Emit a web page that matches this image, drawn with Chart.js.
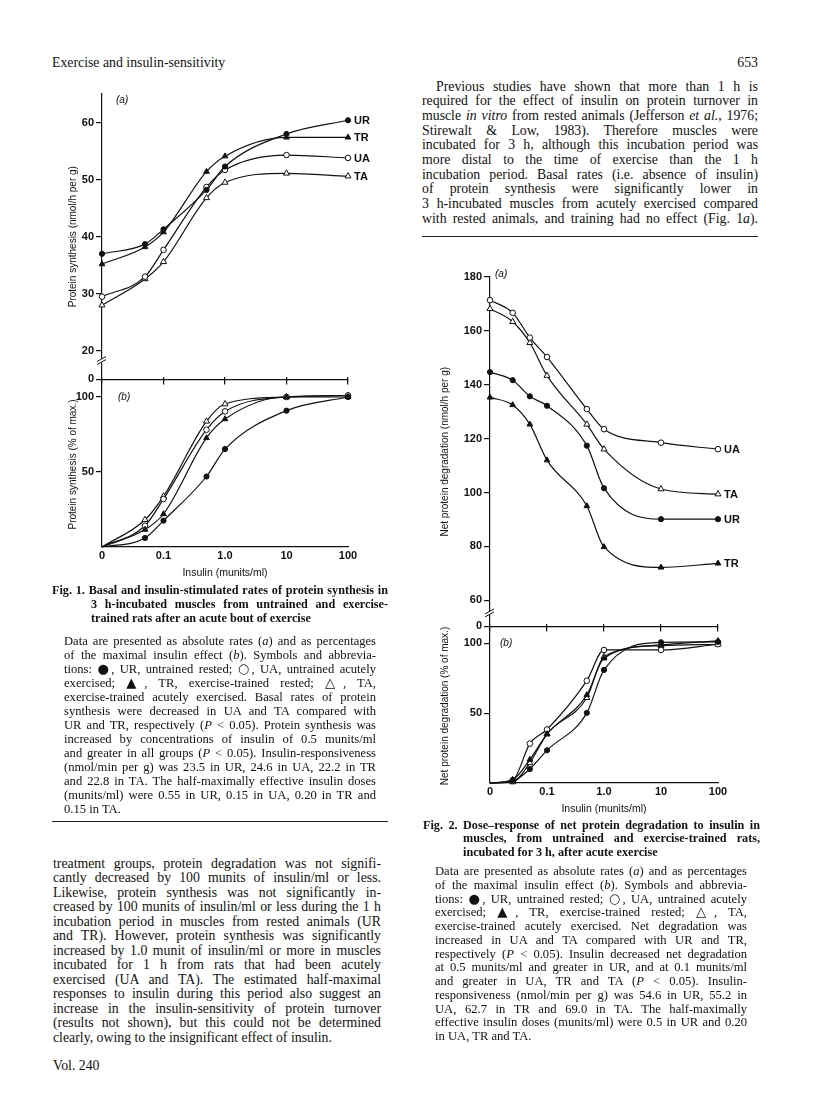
<!DOCTYPE html>
<html>
<head>
<meta charset="utf-8">
<script src="https://cdn.jsdelivr.net/npm/chart.js@4.4.0/dist/chart.umd.min.js"></script>
<style>
  body { margin: 0; background: #fff; }
  #page { position: relative; width: 816px; height: 1097px; background: #fff; overflow: hidden; color: #111; }
  canvas { position: absolute; }
  .ln { position: absolute; font-family: "Liberation Serif", "Times New Roman", serif; text-align: justify; text-align-last: justify; }
  .body { font-size: 13.8px; line-height: 15px; }
  .legend { font-size: 12.6px; line-height: 14px; }
  .cap { font-size: 12.2px; line-height: 14px; font-weight: bold; }
  .sym { font-family: "DejaVu Sans", sans-serif; font-size: 1.05em; }
  .rule { position: absolute; border-top: 1.5px solid #222; height: 0; }
  .tag { position: absolute; font-family: "Liberation Sans", Arial, sans-serif; font-size: 10px; font-style: italic; }
</style>
</head>
<body>
<div id="page">
  <canvas id="fig1a"></canvas>
  <canvas id="fig1b"></canvas>
  <canvas id="fig2a"></canvas>
  <canvas id="fig2b"></canvas>

  <div class="tag" style="left:116px; top:94px;">(a)</div>
  <div class="tag" style="left:118px; top:391px;">(b)</div>
  <div class="tag" style="left:495px; top:268px;">(a)</div>
  <div class="tag" style="left:500px; top:637px;">(b)</div>

  <div class="rule" style="left:422px; top:236px; width:336px;"></div>
  <div class="rule" style="left:52px; top:821px; width:336px;"></div>
</div>
<script>
// insulin doses (munits/ml); a dose of 0 sits on the axis origin
const ORIGIN = 0.01;
const doseFig1 = [0, 0.05, 0.1, 0.5, 1, 10, 100];
const doseFig2 = [0, 0.025, 0.05, 0.1, 0.5, 1, 10, 100];
const doseTicks = [0.01, 0.1, 1, 10, 100];
const doseTickLabels = ["0", "0.1", "1.0", "10", "100"];

// Fig. 1a protein synthesis (nmol/h per g)
const synthUR = [37.0, 38.7, 41.3, 48.2, 52.3, 58.0, 60.4];
const synthTR = [35.2, 38.2, 40.8, 51.4, 54.1, 57.4, 57.4];
const synthUA = [29.5, 33.0, 37.7, 48.7, 51.7, 54.3, 53.8];
const synthTA = [28.0, 32.6, 35.6, 46.8, 49.5, 51.1, 50.6];
const synthTicks = [15, 20, 30, 40, 50, 60];
const synthTickLabels = ["0", "20", "30", "40", "50", "60"];

// Fig. 1b protein synthesis (% of max.)
const synthPctUR = [0, 6, 17.6, 47, 65.3, 90.9, 100];
const synthPctTR = [0, 11.6, 22, 72.7, 85.3, 100, 100];
const synthPctUA = [0, 14.2, 32, 78.2, 90.4, 100, 101];
const synthPctTA = [0, 18.2, 33.8, 83.8, 95.3, 100, 101];

// Fig. 2a net protein degradation (nmol/h per g)
const degUR = [144.7, 141.7, 135.7, 132.2, 117.4, 101.6, 90.1, 90.1];
const degTR = [135.3, 132.5, 125.3, 112.0, 95.0, 79.8, 72.2, 73.7];
const degUA = [171.4, 166.7, 157.5, 150.3, 131.0, 123.5, 118.5, 116.1];
const degTA = [168.2, 163.4, 155.6, 143.4, 125.3, 116.1, 101.3, 99.4];
const degTicks = [50.3, 60, 80, 100, 120, 140, 160, 180];
const degTickLabels = ["0", "60", "80", "100", "120", "140", "160", "180"];

// Fig. 2b net protein degradation (% of max.)
const degPctUR = [0, 1.4, 10, 23.4, 50.2, 80.9, 100.7, 101];
const degPctTR = [0, 2.4, 16.7, 35, 63, 89.2, 98.8, 101.7];
const degPctUA = [0, 2, 28.2, 38.3, 73.2, 95.2, 95.2, 99.3];
const degPctTA = [0, 0.7, 14.4, 35, 61, 90.4, 98.3, 99.3];

const pctTicks = [50, 100];
const pctTickLabels = ["50", "100"];

const INK = "#111";
const SANS = '"Liberation Sans", Arial, sans-serif';

const markers = {
  UR: { style: "circle", fill: INK, r: 2.6 },
  TR: { style: "triangle", fill: INK, r: 3.3 },
  UA: { style: "circle", fill: "#fff", r: 2.8 },
  TA: { style: "triangle", fill: "#fff", r: 3.5 },
};

function series(name, doses, values, markFirst) {
  const m = markers[name];
  return {
    label: name,
    data: doses.map((d, i) => ({ x: d === 0 ? ORIGIN : d, y: values[i] })),
    borderColor: INK,
    borderWidth: 1.2,
    pointStyle: m.style,
    pointBackgroundColor: m.fill,
    pointBorderColor: INK,
    pointBorderWidth: 1,
    pointRadius: (ctx) => (!markFirst && ctx.dataIndex === 0 ? 0 : m.r),
    cubicInterpolationMode: "monotone",
    fill: false,
    clip: false,
  };
}

// group names at the right-hand end of each curve
const endLabels = {
  id: "endLabels",
  afterDatasetsDraw(chart, args, opts) {
    if (!opts.show) return;
    const ctx = chart.ctx;
    ctx.save();
    ctx.font = "bold 11px " + SANS;
    ctx.fillStyle = INK;
    ctx.textBaseline = "middle";
    chart.data.datasets.forEach((ds, i) => {
      const pts = chart.getDatasetMeta(i).data;
      const last = pts[pts.length - 1];
      ctx.fillText(ds.label, last.x + opts.dx, last.y + 1);
    });
    ctx.restore();
  },
};

// "//" break on the y axis
const axisBreak = {
  id: "axisBreak",
  afterDraw(chart, args, opts) {
    if (opts.at == null) return;
    const ctx = chart.ctx;
    const x = chart.chartArea.left;
    const y = chart.scales.y.getPixelForValue(opts.at);
    ctx.save();
    ctx.fillStyle = "#fff";
    ctx.fillRect(x - 3, y - 2, 6, 4);
    ctx.strokeStyle = INK;
    ctx.lineWidth = 1;
    ctx.beginPath();
    ctx.moveTo(x - 5, y + 1); ctx.lineTo(x + 4, y - 4);
    ctx.moveTo(x - 5, y + 4); ctx.lineTo(x + 4, y - 1);
    ctx.stroke();
    ctx.restore();
  },
};

function fixTicks(vals) {
  return (s) => { s.ticks = vals.map((v) => ({ value: v })); };
}

function panel(id, area, cfg) {
  const padR = 36;
  const extraTop = cfg.extraTop || 0;
  const cv = document.getElementById(id);
  const w = area.right - area.left + cfg.yW + padR;
  const h = area.bottom - area.top + cfg.topH + extraTop + cfg.botH;
  cv.width = w;
  cv.height = h;
  cv.style.left = area.left - cfg.yW + "px";
  cv.style.top = area.top - cfg.topH - extraTop + "px";

  const scales = {
    x: {
      type: "logarithmic",
      min: ORIGIN,
      max: 100,
      afterBuildTicks: fixTicks(doseTicks),
      ticks: {
        display: cfg.xLabels,
        callback: (v, i) => doseTickLabels[i],
        color: INK,
        font: { family: SANS, size: 11, weight: "bold" },
        padding: 2,
        maxRotation: 0,
        autoSkip: false,
      },
      grid: cfg.xLabels
        ? { display: false, drawTicks: false }
        : { drawOnChartArea: false, tickLength: 5, color: INK, lineWidth: 1.2 },
      border: { display: true, color: INK, width: 1.2 },
      title: {
        display: cfg.xLabels,
        text: "Insulin (munits/ml)",
        color: INK,
        font: { family: SANS, size: 10.5 },
        padding: { top: 0, bottom: 2 },
      },
      afterFit: (s) => { s.height = cfg.botH; },
    },
    y: {
      min: cfg.yMin,
      max: cfg.yMax,
      afterBuildTicks: fixTicks(cfg.yTicks),
      ticks: {
        callback: (v, i) => cfg.yLabels[i],
        color: INK,
        font: { family: SANS, size: 11, weight: "bold" },
        padding: 2,
      },
      grid: { drawOnChartArea: false, tickLength: 6, color: INK, lineWidth: 1.2 },
      border: { display: true, color: INK, width: 1.2 },
      title: {
        display: true,
        text: cfg.yTitle,
        color: INK,
        font: { family: SANS, size: 10 },
        padding: { top: 0, bottom: 0 },
      },
      afterFit: (s) => { s.width = cfg.yW; },
    },
  };
  if (cfg.topH) {
    scales.xTop = {
      type: "logarithmic",
      position: "top",
      min: ORIGIN,
      max: 100,
      afterBuildTicks: fixTicks(doseTicks),
      ticks: { display: false },
      grid: { drawOnChartArea: false, tickLength: 5, color: INK, lineWidth: 1.2 },
      border: { display: false },
      afterFit: (s) => { s.height = cfg.topH; },
    };
  }

  return new Chart(cv, {
    type: "line",
    data: { datasets: cfg.datasets },
    options: {
      responsive: false,
      animation: false,
      devicePixelRatio: 1,
      layout: { padding: { left: 0, right: padR, top: cfg.topH ? extraTop : cfg.padTop, bottom: 0 } },
      scales: scales,
      plugins: {
        legend: { display: false },
        tooltip: { enabled: false },
        endLabels: { show: cfg.endLabels, dx: 6 },
        axisBreak: { at: cfg.breakAt },
      },
    },
    plugins: [endLabels, axisBreak],
  });
}

// Fig. 1
panel("fig1a", { left: 102, right: 348, top: 82, bottom: 382 }, {
  yW: 35, topH: 0, padTop: 12, botH: 6, xLabels: false,
  yMin: 15, yMax: 65, yTicks: synthTicks, yLabels: synthTickLabels,
  yTitle: "Protein synthesis (nmol/h per g)", endLabels: true, breakAt: 18.3,
  datasets: [
    series("UR", doseFig1, synthUR, true),
    series("TR", doseFig1, synthTR, true),
    series("UA", doseFig1, synthUA, true),
    series("TA", doseFig1, synthTA, true),
  ],
});
panel("fig1b", { left: 102, right: 348, top: 382, bottom: 547 }, {
  yW: 35, topH: 6, extraTop: 8, botH: 34, xLabels: true,
  yMin: 0, yMax: 110, yTicks: pctTicks, yLabels: pctTickLabels,
  yTitle: "Protein synthesis (% of max.)", endLabels: false,
  datasets: [
    series("UR", doseFig1, synthPctUR, false),
    series("TR", doseFig1, synthPctTR, false),
    series("UA", doseFig1, synthPctUA, false),
    series("TA", doseFig1, synthPctTA, false),
  ],
});

// Fig. 2
panel("fig2a", { left: 490, right: 718, top: 265, bottom: 629 }, {
  yW: 51, topH: 0, padTop: 12, botH: 6, xLabels: false,
  yMin: 50.3, yMax: 180, yTicks: degTicks, yLabels: degTickLabels,
  yTitle: "Net protein degradation (nmol/h per g)", endLabels: true, breakAt: 55.3,
  datasets: [
    series("UR", doseFig2, degUR, true),
    series("TR", doseFig2, degTR, true),
    series("UA", doseFig2, degUA, true),
    series("TA", doseFig2, degTA, true),
  ],
});
panel("fig2b", { left: 490, right: 718, top: 629, bottom: 783 }, {
  yW: 51, topH: 6, extraTop: 16, botH: 34, xLabels: true,
  yMin: 0, yMax: 110.2, yTicks: pctTicks, yLabels: pctTickLabels,
  yTitle: "Net protein degradation (% of max.)", endLabels: false,
  datasets: [
    series("UR", doseFig2, degPctUR, false),
    series("TR", doseFig2, degPctTR, false),
    series("UA", doseFig2, degPctUA, false),
    series("TA", doseFig2, degPctTA, false),
  ],
});

// page text, one justified line per div so the breaks match the page
const page = document.getElementById("page");
function placeLines(lines, cls, x, y0, step, width, opt) {
  opt = opt || {};
  lines.forEach((html, i) => {
    const d = document.createElement("div");
    d.className = "ln " + cls;
    d.innerHTML = html;
    let left = x, w = width;
    if (i === 0 && opt.indentFirst) { left += opt.indentFirst; w -= opt.indentFirst; }
    if (i > 0 && opt.hang) { left += opt.hang; w -= opt.hang; }
    d.style.left = left + "px";
    d.style.width = w + "px";
    d.style.top = y0 + i * step - opt.half + "px";
    if (i === lines.length - 1 && opt.lastLeft) d.style.textAlignLast = "left";
    if (opt.align) { d.style.textAlign = opt.align; d.style.textAlignLast = opt.align; }
    page.appendChild(d);
    // shrink a line a little if it would not fit on one line
    const probe = d.cloneNode(true);
    probe.style.width = "auto";
    probe.style.whiteSpace = "nowrap";
    page.appendChild(probe);
    const natural = probe.getBoundingClientRect().width;
    probe.remove();
    if (natural > w) {
      const fs = parseFloat(getComputedStyle(d).fontSize);
      d.style.fontSize = (fs * w / natural) * 0.985 + "px";
    }
  });
}

const symLine1 = 'tions: <span class="sym">●</span>, UR, untrained rested; <span class="sym">○</span>, UA, untrained acutely';
const symLine2 = 'exercised; <span class="sym">▲</span>, TR, exercise-trained rested; <span class="sym">△</span>, TA,';

placeLines(["Exercise and insulin-sensitivity"], "body", 52, 62, 15, 300, { half: 7.5, align: "left" });
placeLines(["653"], "body", 658, 62, 15, 100, { half: 7.5, align: "right" });

placeLines([
  "Previous studies have shown that more than 1 h is",
  "required for the effect of insulin on protein turnover in",
  "muscle <i>in vitro</i> from rested animals (Jefferson <i>et al.</i>, 1976;",
  "Stirewalt &amp; Low, 1983). Therefore muscles were",
  "incubated for 3 h, although this incubation period was",
  "more distal to the time of exercise than the 1 h",
  "incubation period. Basal rates (i.e. absence of insulin)",
  "of protein synthesis were significantly lower in",
  "3 h-incubated muscles from acutely exercised compared",
  "with rested animals, and training had no effect (Fig. 1<i>a</i>).",
], "body", 422, 86, 14.7, 336, { indentFirst: 14, half: 7.5 });

placeLines([
  "Fig. 1. Basal and insulin-stimulated rates of protein synthesis in",
  "3 h-incubated muscles from untrained and exercise-",
  "trained rats after an acute bout of exercise",
], "cap", 52, 590, 13.9, 336, { hang: 39, half: 7, lastLeft: true });

placeLines([
  "Data are presented as absolute rates (<i>a</i>) and as percentages",
  "of the maximal insulin effect (<i>b</i>). Symbols and abbrevia-",
  symLine1,
  symLine2,
  "exercise-trained acutely exercised. Basal rates of protein",
  "synthesis were decreased in UA and TA compared with",
  "UR and TR, respectively (<i>P</i> &lt; 0.05). Protein synthesis was",
  "increased by concentrations of insulin of 0.5 munits/ml",
  "and greater in all groups (<i>P</i> &lt; 0.05). Insulin-responsiveness",
  "(nmol/min per g) was 23.5 in UR, 24.6 in UA, 22.2 in TR",
  "and 22.8 in TA. The half-maximally effective insulin doses",
  "(munits/ml) were 0.55 in UR, 0.15 in UA, 0.20 in TR and",
  "0.15 in TA.",
], "legend", 64, 641, 13.97, 312, { half: 7, lastLeft: true });

placeLines([
  "treatment groups, protein degradation was not signifi-",
  "cantly decreased by 100 munits of insulin/ml or less.",
  "Likewise, protein synthesis was not significantly in-",
  "creased by 100 munits of insulin/ml or less during the 1 h",
  "incubation period in muscles from rested animals (UR",
  "and TR). However, protein synthesis was significantly",
  "increased by 1.0 munit of insulin/ml or more in muscles",
  "incubated for 1 h from rats that had been acutely",
  "exercised (UA and TA). The estimated half-maximal",
  "responses to insulin during this period also suggest an",
  "increase in the insulin-sensitivity of protein turnover",
  "(results not shown), but this could not be determined",
  "clearly, owing to the insignificant effect of insulin.",
], "body", 53, 863.3, 14.5, 328, { half: 7.5, lastLeft: true });

placeLines(["Vol. 240"], "body", 53, 1065, 14.5, 200, { half: 7.5, align: "left" });

placeLines([
  "Fig. 2. Dose–response of net protein degradation to insulin in",
  "muscles, from untrained and exercise-trained rats,",
  "incubated for 3 h, after acute exercise",
], "cap", 423, 825, 13.4, 337, { hang: 40, half: 7, lastLeft: true });

placeLines([
  "Data are presented as absolute rates (<i>a</i>) and as percentages",
  "of the maximal insulin effect (<i>b</i>). Symbols and abbrevia-",
  symLine1,
  symLine2,
  "exercise-trained acutely exercised. Net degradation was",
  "increased in UA and TA compared with UR and TR,",
  "respectively (<i>P</i> &lt; 0.05). Insulin decreased net degradation",
  "at 0.5 munits/ml and greater in UR, and at 0.1 munits/ml",
  "and greater in UA, TR and TA (<i>P</i> &lt; 0.05). Insulin-",
  "responsiveness (nmol/min per g) was 54.6 in UR, 55.2 in",
  "UA, 62.7 in TR and 69.0 in TA. The half-maximally",
  "effective insulin doses (munits/ml) were 0.5 in UR and 0.20",
  "in UA, TR and TA.",
], "legend", 435, 871, 13.75, 312, { half: 7, lastLeft: true });
</script>
</body>
</html>
